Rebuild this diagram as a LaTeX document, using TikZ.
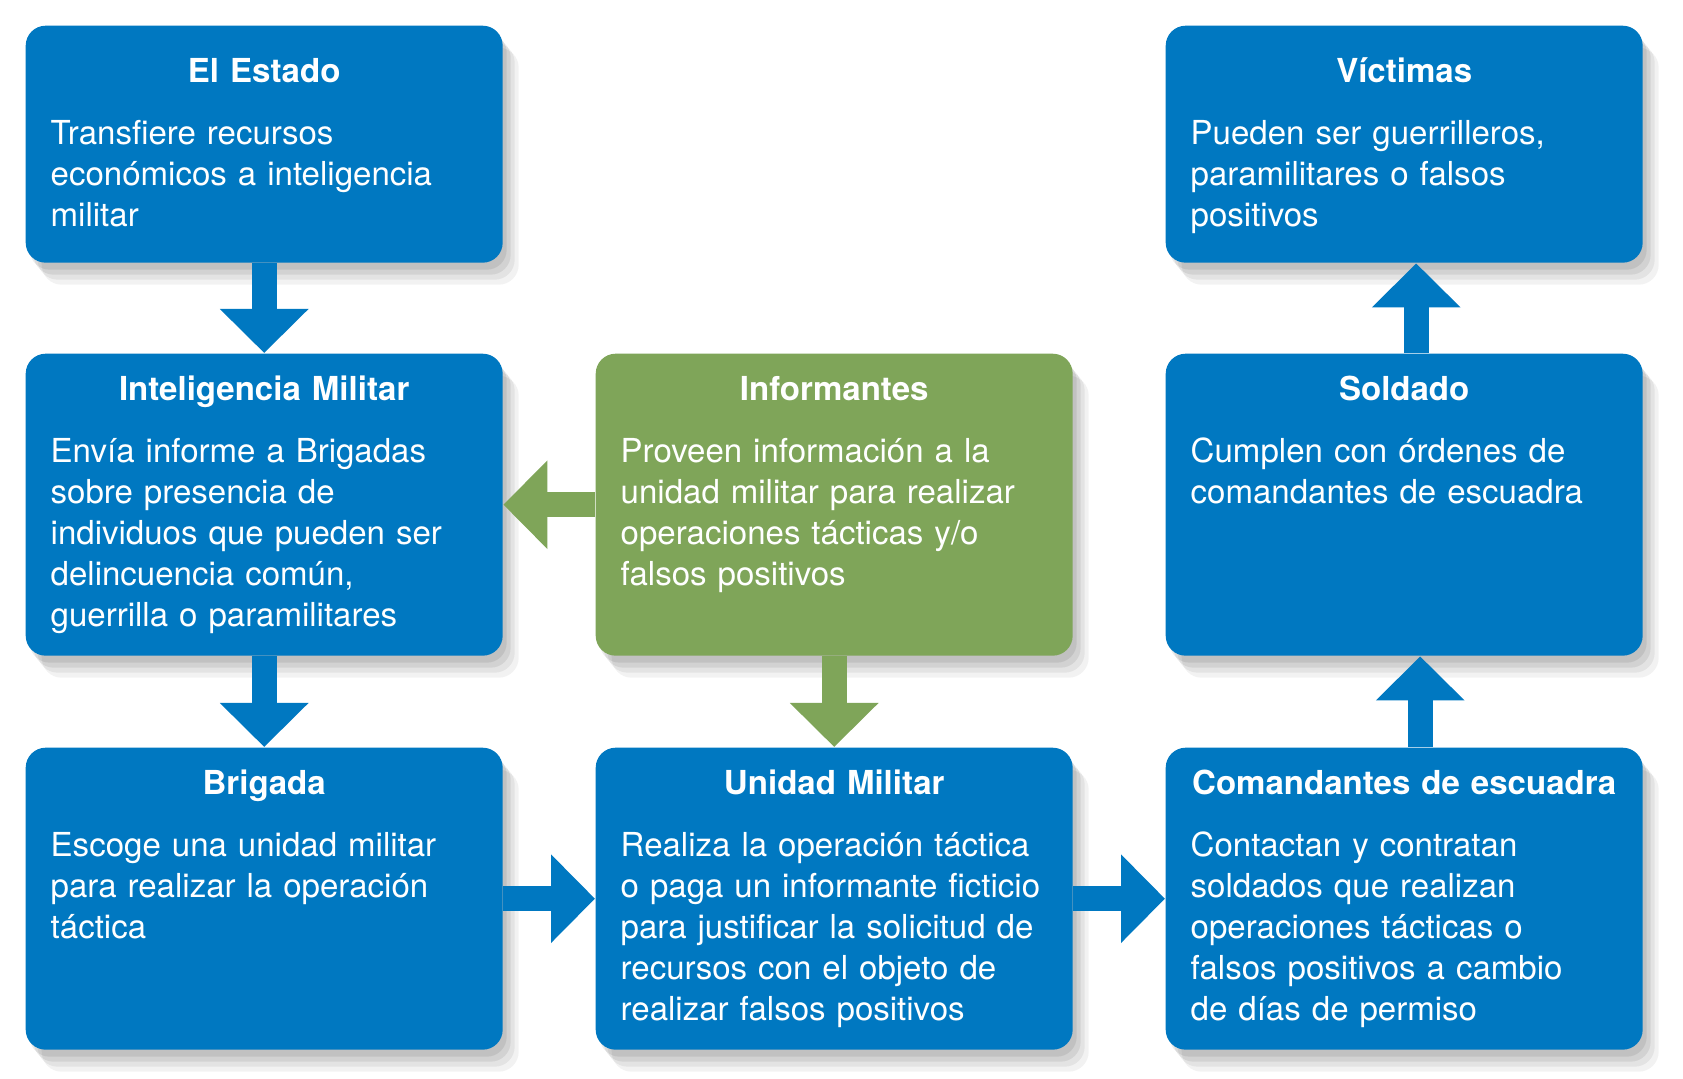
\documentclass[tikz,border=0pt]{standalone}
\usepackage{fontspec}
\setmainfont{TeX Gyre Heros}
\usetikzlibrary{arrows.meta,positioning,shadows}
\definecolor{cardblue}{RGB}{0,120,193}
\definecolor{cardgreen}{RGB}{127,165,89}

\begin{document}
\begin{tikzpicture}
[x=0.1mm,y=0.1mm,
 softshadow/.style={
   drop shadow={shadow xshift=1.6mm,shadow yshift=-2.2mm,opacity=0.05,fill=black},
   drop shadow={shadow xshift=1.2mm,shadow yshift=-1.7mm,opacity=0.06,fill=black},
   drop shadow={shadow xshift=0.8mm,shadow yshift=-1.2mm,opacity=0.07,fill=black},
   drop shadow={shadow xshift=0.4mm,shadow yshift=-0.7mm,opacity=0.08,fill=black}},
 card/.style={rectangle,rounded corners=2mm,text=white,align=left,
   text width=42.7mm,inner xsep=2.5mm,inner ysep=0pt,anchor=north west,
   font=\fontsize{9.4pt}{11.66pt}\selectfont,softshadow},
 bluecard/.style={card,fill=cardblue},
 greencard/.style={card,fill=cardgreen},
 toprow/.style={text height=5.7mm,text depth=18mm},
 lowrow/.style={text height=4.7mm,text depth=25.5mm},
 bluearrow/.style={cardblue,line width=2.5mm,-{Triangle[width=8.6mm,length=4.4mm]}},
 greenarrow/.style={bluearrow,cardgreen}]
\useasboundingbox[fill=white] (0,0) rectangle (1683,-1079);
% top row
\node[bluecard,toprow] (estado) at (25,-25) {{\centering\bfseries El Estado\par}\vspace{2.1mm}%
  Transfiere recursos\\económicos a inteligencia\\militar};
\node[bluecard,toprow] (victimas) at (1165,-25) {{\centering\bfseries Víctimas\par}\vspace{2.1mm}%
  Pueden ser guerrilleros,\\paramilitares o falsos\\positivos};
% middle row
\node[bluecard,lowrow] (intel) at (25,-353) {{\centering\bfseries Inteligencia Militar\par}\vspace{2.1mm}%
  Envía informe a Brigadas\\sobre presencia de\\individuos que pueden ser\\delincuencia común,\\guerrilla o paramilitares};
\node[greencard,lowrow] (inform) at (595,-353) {{\centering\bfseries Informantes\par}\vspace{2.1mm}%
  Proveen información a la\\unidad militar para realizar\\operaciones tácticas y/o\\falsos positivos};
\node[bluecard,lowrow] (soldado) at (1165,-353) {{\centering\bfseries Soldado\par}\vspace{2.1mm}%
  Cumplen con órdenes de\\comandantes de escuadra};
% bottom row
\node[bluecard,lowrow] (brigada) at (25,-747) {{\centering\bfseries Brigada\par}\vspace{2.1mm}%
  Escoge una unidad militar\\para realizar la operación\\táctica};
\node[bluecard,lowrow] (unidad) at (595,-747) {{\centering\bfseries Unidad Militar\par}\vspace{2.1mm}%
  Realiza la operación táctica\\o paga un informante ficticio\\para justificar la solicitud de\\recursos con el objeto de\\realizar falsos positivos};
\node[bluecard,lowrow] (comand) at (1165,-747) {{\centering\bfseries Comandantes de escuadra\par}\vspace{2.1mm}%
  Contactan y contratan\\soldados que realizan\\operaciones tácticas o\\falsos positivos a cambio\\de días de permiso};
% arrows
\draw[bluearrow] (estado) -- (intel);
\draw[bluearrow] (intel) -- (brigada);
\draw[greenarrow] (inform) -- (intel);
\draw[greenarrow] (inform) -- (unidad);
\draw[bluearrow] (brigada) -- (unidad);
\draw[bluearrow] (unidad) -- (comand);
\draw[bluearrow] ([xshift=1.6mm]comand.north) -- ([xshift=1.6mm]soldado.south);
\draw[bluearrow] ([xshift=1.2mm]soldado.north) -- ([xshift=1.2mm]victimas.south);
\end{tikzpicture}
\end{document}
